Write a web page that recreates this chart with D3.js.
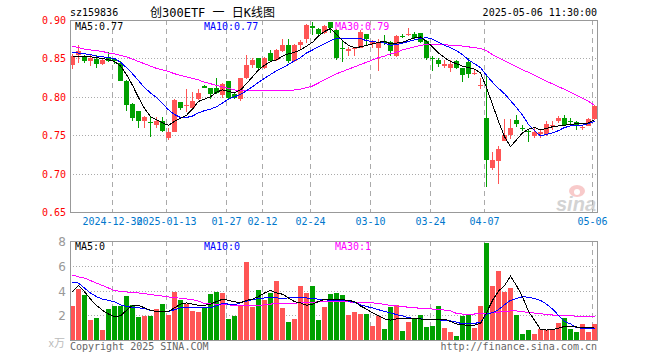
<!DOCTYPE html>
<html>
<head>
<meta charset="utf-8">
<script src="https://cdn.jsdelivr.net/npm/d3@7"></script>
<style>
  body { margin: 0; background: #fff; }
  svg { display: block; }
  text { font-family: "DejaVu Sans Mono", monospace; font-size: 10px; }
</style>
</head>
<body>
<div id="chart"></div>
<script>
// trading days shown on the chart
const dates = [
  "2024-12-19","2024-12-20","2024-12-23","2024-12-24","2024-12-25","2024-12-26","2024-12-27","2024-12-30","2024-12-31",
  "2025-01-02","2025-01-03","2025-01-06","2025-01-07","2025-01-08","2025-01-09","2025-01-10","2025-01-13","2025-01-14",
  "2025-01-15","2025-01-16","2025-01-17","2025-01-20","2025-01-21","2025-01-22","2025-01-23","2025-01-24","2025-01-27",
  "2025-02-05","2025-02-06","2025-02-07","2025-02-10","2025-02-11","2025-02-12","2025-02-13","2025-02-14","2025-02-17",
  "2025-02-18","2025-02-19","2025-02-20","2025-02-21","2025-02-24","2025-02-25","2025-02-26","2025-02-27","2025-02-28",
  "2025-03-03","2025-03-04","2025-03-05","2025-03-06","2025-03-07","2025-03-10","2025-03-11","2025-03-12","2025-03-13",
  "2025-03-14","2025-03-17","2025-03-18","2025-03-19","2025-03-20","2025-03-21","2025-03-24","2025-03-25","2025-03-26",
  "2025-03-27","2025-03-28","2025-03-31","2025-04-01","2025-04-02","2025-04-03","2025-04-07","2025-04-08","2025-04-09",
  "2025-04-10","2025-04-11","2025-04-14","2025-04-15","2025-04-16","2025-04-17","2025-04-18","2025-04-21","2025-04-22",
  "2025-04-23","2025-04-24","2025-04-25","2025-04-28","2025-04-29","2025-04-30","2025-05-06"
];

const opens = [
  .842,.855,.853,.846,.849,.843,.850,.849,.844,.821, .791,.781,.768,.767,.763,.768,.746,.754,.793,.788,
  .785,.797,.814,.811,.811,.802,.820,.804,.797,.824, .842,.850,.838,.857,.848,.859,.868,.846,.867,.875,
  .892,.888,.883,.897,.887,.863,.860,.863,.864,.882, .869,.863,.873,.871,.853,.879,.880,.882,.883,.873,
  .851,.848,.840,.838,.846,.838,.845,.830,.814,.772, .707,.717,.743,.750,.770,.760,.756,.749,.751,.751,
  .762,.768,.773,.769,.767,.760,.762,.771
];
const highs = [
  .856,.868,.855,.854,.854,.850,.858,.851,.846,.822, .792,.782,.775,.774,.774,.774,.760,.797,.793,.810,
  .806,.810,.815,.811,.825,.818,.820,.805,.825,.855, .851,.850,.852,.861,.862,.875,.875,.869,.874,.895,
  .897,.890,.894,.897,.888,.874,.865,.865,.887,.882, .874,.875,.880,.873,.881,.882,.890,.885,.883,.874,
  .853,.850,.848,.848,.848,.838,.850,.836,.825,.828, .728,.736,.771,.771,.776,.763,.757,.759,.757,.768,
  .768,.775,.776,.773,.768,.763,.773,.789
];
const lows = [
  .836,.844,.844,.840,.838,.841,.845,.843,.820,.782, .768,.760,.759,.748,.760,.754,.744,.754,.783,.780,
  .784,.796,.811,.797,.803,.799,.797,.797,.794,.823, .838,.835,.836,.845,.847,.858,.844,.845,.861,.870,
  .880,.878,.882,.883,.848,.845,.853,.853,.863,.867, .864,.834,.867,.853,.852,.876,.879,.875,.870,.848,
  .833,.839,.838,.832,.836,.819,.825,.828,.810,.683, .705,.687,.742,.745,.761,.755,.741,.747,.746,.749,
  .757,.766,.762,.762,.757,.757,.762,.770
];
const closes = [
  .853,.859,.846,.851,.843,.848,.846,.846,.821,.789, .772,.768,.774,.766,.768,.755,.754,.796,.785,.789,
  .794,.805,.811,.804,.805,.817,.799,.798,.824,.842, .848,.838,.850,.846,.861,.867,.847,.868,.872,.894,
  .890,.882,.892,.889,.851,.862,.862,.864,.885,.875, .871,.871,.870,.859,.879,.878,.882,.877,.872,.850,
  .849,.843,.843,.843,.838,.829,.830,.831,.815,.718, .718,.732,.750,.759,.764,.759,.755,.754,.754,.765,
  .763,.772,.763,.768,.762,.761,.771,.788
];

// moving average lines as drawn on the price panel
const ma5 = [
  .853,.853,.852,.852,.851,.850,.848,.846,.840,.829, .815,.799,.785,.774,.770,.766,.763,.768,.772,.776,
  .784,.794,.797,.800,.806,.809,.807,.805,.809,.817, .826,.835,.841,.846,.848,.853,.856,.858,.861,.866,
  .871,.879,.885,.889,.881,.873,.867,.864,.865,.867, .869,.871,.872,.869,.870,.871,.874,.877,.878,.872,
  .865,.857,.851,.846,.843,.840,.838,.836,.831,.812, .790,.768,.748,.735,.744,.753,.758,.760,.757,.759,
  .761,.762,.763,.764,.765,.765,.766,.770
];
const ma10 = [
  .858,.857,.856,.855,.853,.852,.851,.850,.845,.838, .830,.821,.812,.805,.799,.791,.783,.777,.773,.773,
  .775,.779,.782,.784,.787,.792,.797,.800,.803,.808, .813,.819,.824,.829,.834,.838,.842,.847,.851,.857,
  .861,.865,.869,.873,.876,.876,.876,.876,.876,.873, .872,.871,.870,.867,.868,.870,.872,.874,.876,.877,
  .875,.871,.867,.864,.860,.855,.848,.843,.838,.828, .819,.811,.804,.795,.786,.776,.764,.756,.749,.751,
  .753,.756,.760,.762,.763,.763,.765,.768
];
const ma30 = [
  .866,.864,.862,.861,.860,.859,.857,.856,.854,.852, .849,.846,.843,.840,.837,.835,.833,.830,.828,.826,
  .824,.822,.819,.817,.815,.813,.811,.809,.808,.808, .808,.808,.808,.808,.808,.808,.808,.809,.810,.812,
  .814,.818,.822,.826,.830,.833,.836,.839,.842,.845, .848,.851,.853,.856,.858,.861,.863,.865,.867,.868,
  .868,.868,.868,.867,.867,.866,.865,.864,.863,.860, .855,.851,.847,.843,.839,.835,.832,.828,.824,.820,
  .817,.813,.810,.806,.802,.798,.794,.789
];

// volume (x 万) and its averages
const volumes = [
  2.75,4.15,3.64,1.62,1.78,0.81,2.51,2.75,2.75,3.56, 2.83,1.86,1.94,1.94,2.51,2.91,2.02,3.88,3.23,2.91,
  2.35,2.26,2.67,3.72,3.88,3.80,1.70,1.94,2.75,6.31, 2.67,4.04,3.23,3.80,4.77,2.59,1.46,1.70,4.37,3.83,
  4.37,1.62,2.67,3.72,3.80,3.64,2.02,2.26,2.10,2.10, 1.13,1.94,0.89,2.67,2.83,0.73,1.46,1.78,2.02,1.05,
  1.13,2.75,0.97,0.65,0.32,1.94,2.02,0.97,2.75,7.84, 4.37,5.58,3.88,4.20,2.02,0.49,0.81,0.49,0.89,0.81,
  0.89,1.37,1.78,0.89,0.65,1.29,0.65,1.29
];
const vma5 = [
  3.9,4.4,3.9,3.3,2.8,2.4,2.1,1.9,1.95,2.4, 2.8,2.8,2.6,2.4,2.3,2.3,2.3,2.6,2.9,3.0,
  2.9,2.8,2.8,2.9,3.1,3.3,3.2,3.1,3.0,3.2, 3.3,3.5,3.8,4.0,3.8,3.7,3.4,3.1,3.0,2.8,
  2.9,3.1,3.3,3.3,3.25,3.25,3.2,3.1,2.75,2.5, 2.2,1.95,1.7,1.6,1.7,1.75,1.75,1.7,1.7,1.65,
  1.62,1.65,1.68,1.5,1.3,1.22,1.2,1.2,1.35,2.2, 3.2,3.95,4.4,5.15,4.4,3.5,2.3,1.6,0.85,0.8,
  0.85,0.95,1.1,1.1,1.05,1.0,1.0,1.02
];
const vma10 = [
  4.65,4.6,4.2,3.8,3.5,3.3,3.2,3.1,2.85,2.7, 2.65,2.6,2.55,2.4,2.3,2.3,2.3,2.45,2.6,2.65,
  2.65,2.62,2.6,2.62,2.75,2.95,2.9,2.85,3.0,3.15, 3.25,3.35,3.4,3.42,3.4,3.38,3.4,3.42,3.4,3.4,
  3.35,3.3,3.25,3.2,3.18,3.18,3.15,3.05,2.85,2.7, 2.6,2.45,2.3,2.2,2.05,1.95,1.8,1.75,1.7,1.68,
  1.65,1.62,1.6,1.55,1.45,1.3,1.3,1.35,1.42,2.1, 2.2,2.45,2.85,3.2,3.35,3.5,3.45,3.35,3.2,2.9,
  2.5,2.0,1.5,1.3,1.0,0.95,0.95,0.95
];
const vma30 = [
  5.25,5.1,5.0,4.8,4.6,4.4,4.2,4.0,3.92,3.88, 3.85,3.8,3.75,3.68,3.6,3.55,3.48,3.42,3.38,3.32,
  3.25,3.15,2.95,2.92,2.9,2.9,2.85,2.78,2.75,2.75, 2.75,2.78,2.85,2.9,2.95,2.95,2.96,2.98,3.0,3.02,
  3.05,3.08,3.1,3.12,3.12,3.1,3.08,3.05,3.03,3.02, 3.0,2.95,2.88,2.8,2.75,2.7,2.65,2.6,2.57,2.55,
  2.5,2.45,2.42,2.35,2.15,2.1,2.1,2.1,2.12,2.15, 2.2,2.25,2.3,2.35,2.35,2.3,2.22,2.18,2.12,2.07,
  2.02,2.0,1.97,1.95,1.93,1.92,1.9,1.88
];

// axis ticks
const tickDates = ["2024-12-30","2025-01-13","2025-01-27","2025-02-12","2025-02-24","2025-03-10","2025-03-24","2025-04-07","2025-05-06"];
const tickLabels = ["2024-12-30","2025-01-13","01-27","02-12","02-24","03-10","03-24","04-07","05-06"];
const priceTicks = [0.90, 0.85, 0.80, 0.75, 0.70, 0.65];
const volTicks = [8, 6, 4, 2];

const width = 660, height = 360;
const left = 70, right = 598;
const red = "#ff5555", green = "#00a000", grid = "#aaaaaa";

let svg = d3.select("#chart")
  .append("svg")
  .attr("width", width)
  .attr("height", height);

let x = d3.scaleLinear().domain([0, dates.length]).range([left, right]);
let yPrice = d3.scaleLinear().domain([0.65, 0.90]).range([212, 20]);
let yVol = d3.scaleLinear().domain([0, 8]).range([340, 241]);

let idx = d3.range(dates.length);
let up = i => closes[i] >= opens[i];
let tickIdx = tickDates.map(d => dates.indexOf(d));

// header
svg.append("text").attr("x", 70).attr("y", 16).text("sz159836");
svg.append("text")
  .attr("x", 150).attr("y", 17)
  .style("font-family", "'DejaVu Sans Mono', 'Noto Sans CJK SC', monospace")
  .style("font-size", "12px")
  .style("white-space", "pre")
  .attr("xml:space", "preserve")
  .text("创300ETF 一 日K线图");
svg.append("text").attr("x", 597).attr("y", 16).attr("text-anchor", "end").text("2025-05-06 11:30:00");

function panel(top, bottom, hLines) {
  let g = svg.append("g").attr("shape-rendering", "crispEdges");
  // horizontal dotted grid
  g.selectAll("line.h")
    .data(hLines)
    .enter().append("line")
    .attr("x1", left).attr("x2", right)
    .attr("y1", d => Math.round(d) + 0.5).attr("y2", d => Math.round(d) + 0.5)
    .attr("stroke", grid)
    .attr("stroke-dasharray", "1,2");
  // vertical dashed grid at the date ticks
  g.selectAll("line.v")
    .data(tickIdx)
    .enter().append("line")
    .attr("x1", d => x(d) + 0.5).attr("x2", d => x(d) + 0.5)
    .attr("y1", top).attr("y2", bottom)
    .attr("stroke", grid)
    .attr("stroke-dasharray", "5,4");
  return g;
}

// ---- price panel
panel(20, 212, [0.85, 0.80, 0.75, 0.70].map(yPrice));

// sina watermark
let logo = svg.append("g").attr("opacity", 0.55);
logo.append("ellipse").attr("cx", 577).attr("cy", 191).attr("rx", 8).attr("ry", 6).attr("fill", "#f4a0a0");
logo.append("circle").attr("cx", 577).attr("cy", 192).attr("r", 3).attr("fill", "#fff");
logo.append("text")
  .attr("x", 576).attr("y", 211)
  .attr("text-anchor", "middle")
  .style("font-family", "'Liberation Sans', sans-serif")
  .style("font-size", "20px").style("font-weight", "bold").style("font-style", "italic")
  .attr("fill", "#b0b0b0")
  .text("sina");

let candles = svg.append("g").attr("shape-rendering", "crispEdges");
candles.selectAll("line")
  .data(idx)
  .enter().append("line")
  .attr("x1", i => x(i) + 2.5).attr("x2", i => x(i) + 2.5)
  .attr("y1", i => yPrice(highs[i])).attr("y2", i => yPrice(lows[i]))
  .attr("stroke", i => up(i) ? red : green);
candles.selectAll("rect")
  .data(idx)
  .enter().append("rect")
  .attr("x", i => x(i))
  .attr("width", 5)
  .attr("y", i => yPrice(Math.max(opens[i], closes[i])))
  .attr("height", i => Math.max(1, Math.abs(yPrice(opens[i]) - yPrice(closes[i]))))
  .attr("fill", i => up(i) ? red : green);

let line = (scale, vals) => d3.line().x(i => x(i) + 2.5).y(i => scale(vals[i]))(idx);
[[ma30, "#ff00ff"], [ma10, "#0000ff"], [ma5, "#000000"]].forEach(([vals, c]) => {
  svg.append("path")
    .attr("d", line(yPrice, vals))
    .attr("fill", "none").attr("stroke", c).attr("stroke-width", 1)
    .attr("shape-rendering", "crispEdges");
});

// border
svg.append("rect")
  .attr("x", left + 0.5).attr("y", 20.5)
  .attr("width", right - left - 1).attr("height", 192)
  .attr("fill", "none").attr("stroke", "#999").attr("shape-rendering", "crispEdges");

svg.selectAll("text.py")
  .data(priceTicks)
  .enter().append("text")
  .attr("x", 66).attr("y", d => yPrice(d) + 4)
  .attr("text-anchor", "end")
  .attr("fill", "#ff0000")
  .text(d => d.toFixed(2));

// date labels (the first two touch each other in the original too)
svg.selectAll("text.dt")
  .data(tickIdx)
  .enter().append("text")
  .attr("x", d => x(d) + 0.5).attr("y", 225)
  .attr("text-anchor", "middle")
  .attr("fill", "#0077cc")
  .text((d, k) => tickLabels[k]);

svg.append("text").attr("x", 75).attr("y", 30).text("MA5:0.77");
svg.append("text").attr("x", 204).attr("y", 30).attr("fill", "#0000ff").text("MA10:0.77");
svg.append("text").attr("x", 335).attr("y", 30).attr("fill", "#ff00ff").text("MA30:0.79");

// ---- volume panel
panel(241, 340, [6, 4, 2].map(yVol));

svg.append("g").attr("shape-rendering", "crispEdges")
  .selectAll("rect")
  .data(idx)
  .enter().append("rect")
  .attr("x", i => x(i))
  .attr("width", 5)
  .attr("y", i => yVol(volumes[i]))
  .attr("height", i => yVol(0) - yVol(volumes[i]))
  .attr("fill", i => up(i) ? red : green);

[[vma30, "#ff00ff"], [vma10, "#0000ff"], [vma5, "#000000"]].forEach(([vals, c]) => {
  svg.append("path")
    .attr("d", line(yVol, vals))
    .attr("fill", "none").attr("stroke", c).attr("stroke-width", 1)
    .attr("shape-rendering", "crispEdges");
});

svg.append("rect")
  .attr("x", left + 0.5).attr("y", 241.5)
  .attr("width", right - left - 1).attr("height", 99)
  .attr("fill", "none").attr("stroke", "#999").attr("shape-rendering", "crispEdges");

svg.selectAll("text.vy")
  .data(volTicks)
  .enter().append("text")
  .attr("x", 66).attr("y", d => yVol(d) + 5)
  .attr("text-anchor", "end")
  .attr("fill", "#999")
  .style("font-family", "'DejaVu Sans', sans-serif")
  .style("font-size", "12px")
  .text(d => d);
svg.append("text")
  .attr("x", 65).attr("y", 347)
  .attr("text-anchor", "end")
  .attr("fill", "#bbb")
  .style("font-family", "'Noto Sans CJK SC', sans-serif")
  .style("font-size", "11px")
  .text("x万");

svg.append("text").attr("x", 75).attr("y", 250).text("MA5:0");
svg.append("text").attr("x", 204).attr("y", 250).attr("fill", "#0000ff").text("MA10:0");
svg.append("text").attr("x", 335).attr("y", 250).attr("fill", "#ff00ff").text("MA30:1");

svg.append("text").attr("x", 70).attr("y", 350).attr("fill", "#666").text("Copyright 2025 SINA.COM");
svg.append("text").attr("x", 597).attr("y", 350).attr("text-anchor", "end").attr("fill", "#666").text("http://finance.sina.com.cn");
</script>
</body>
</html>
